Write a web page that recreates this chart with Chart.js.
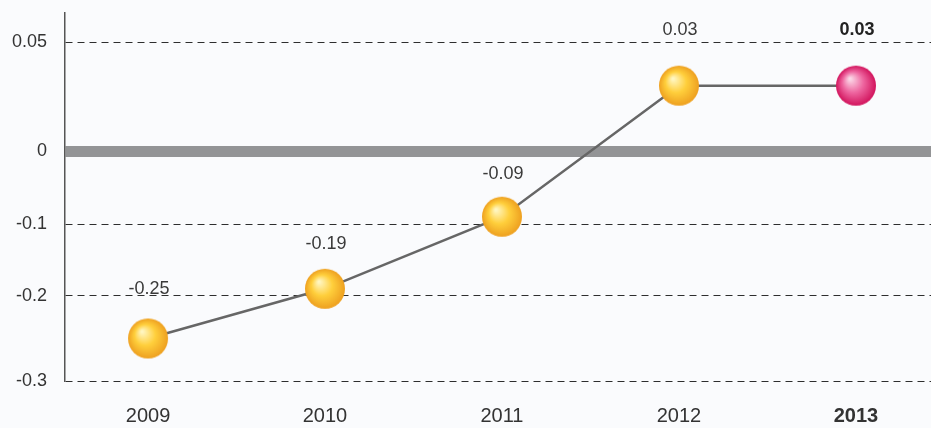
<!DOCTYPE html>
<html><head><meta charset="utf-8">
<script src="https://cdn.jsdelivr.net/npm/chart.js@4/dist/chart.umd.min.js"></script>
<style>html,body{margin:0;padding:0;background:#fafbfd;}#wrap{width:931px;height:428px;}</style>
</head><body><div id="wrap"><canvas id="c" width="931" height="428"></canvas></div>
<script>
const years = ['2009','2010','2011','2012','2013'];
const values = [-0.25, -0.19, -0.09, 0.03, 0.03];
const valueLabels = ['-0.25','-0.19','-0.09','0.03','0.03'];
const yTickValues = [-0.3, -0.2, -0.1, 0, 0.05];
const yTickLabels = ['-0.3','-0.2','-0.1','0','0.05'];

// piecewise vertical scale layout (the source axis is not evenly spaced)
const KNOT_VALUES = [-0.3, -0.2, -0.1, 0, 0.05, 0.0633];
const KNOT_FRACS  = [0, 0.231, 0.4266, 0.625, 0.921, 1];
// vertical distance of each value label above its marker (style)
const LABEL_OFFSETS = [49, 45, 43, 56, 56];

class PiecewiseScale extends Chart.LinearScale {
  getPixelForValue(value) {
    const v = +value; let i = 0;
    while (i < KNOT_VALUES.length - 2 && v > KNOT_VALUES[i + 1]) i++;
    const t = (v - KNOT_VALUES[i]) / (KNOT_VALUES[i + 1] - KNOT_VALUES[i]);
    const f = KNOT_FRACS[i] + t * (KNOT_FRACS[i + 1] - KNOT_FRACS[i]);
    return this.bottom - f * (this.bottom - this.top);
  }
  getValueForPixel(pixel) {
    const f = (this.bottom - pixel) / (this.bottom - this.top); let i = 0;
    while (i < KNOT_FRACS.length - 2 && f > KNOT_FRACS[i + 1]) i++;
    const t = (f - KNOT_FRACS[i]) / (KNOT_FRACS[i + 1] - KNOT_FRACS[i]);
    return KNOT_VALUES[i] + t * (KNOT_VALUES[i + 1] - KNOT_VALUES[i]);
  }
}
PiecewiseScale.id = 'piecewise';
PiecewiseScale.defaults = Chart.LinearScale.defaults;
Chart.register(PiecewiseScale);

function ball(c1, c2, c3) {
  const s = 44, cv = document.createElement('canvas');
  cv.width = cv.height = s;
  const g = cv.getContext('2d');
  const gr = g.createRadialGradient(s/2 - 6, s/2 - 7, 1, s/2, s/2, 20);
  gr.addColorStop(0, c1); gr.addColorStop(0.5, c2); gr.addColorStop(1, c3);
  g.fillStyle = gr; g.beginPath(); g.arc(s/2, s/2, 20, 0, Math.PI * 2); g.fill();
  return cv;
}
const yellowBall = ball('#fff6c0', '#ffcf3c', '#eea020');
const pinkBall = ball('#fbd6e6', '#ee66a0', '#d2145d');

const FONT = '"Liberation Sans", Arial, sans-serif';

function noPad(s) { s.paddingTop = 0; s.paddingBottom = 0; s.paddingLeft = 0; s.paddingRight = 0; }

const labelPlugin = {
  id: 'valueLabels',
  afterDatasetsDraw(chart) {
    const ctx = chart.ctx, meta = chart.getDatasetMeta(0);
    ctx.save();
    ctx.textAlign = 'center'; ctx.textBaseline = 'middle';
    meta.data.forEach((pt, i) => {
      const last = i === valueLabels.length - 1;
      ctx.font = (last ? 'bold ' : '') + '18px ' + FONT;
      ctx.fillStyle = last ? '#222' : '#3a3a3a';
      ctx.fillText(valueLabels[i], pt.x + 1, pt.y - LABEL_OFFSETS[i]);
    });
    ctx.restore();
  }
};

new Chart(document.getElementById('c'), {
  type: 'line',
  data: {
    datasets: [{
      data: values.map((v, i) => ({ x: i, y: v })),
      borderColor: '#666',
      borderWidth: 2.5,
      pointStyle: ctx => ctx.dataIndex === years.length - 1 ? pinkBall : yellowBall,
      pointRadius: 20,
      clip: false,
      tension: 0
    }]
  },
  options: {
    responsive: false,
    animation: false,
    devicePixelRatio: 1,
    layout: { autoPadding: false, padding: { top: 13, right: 0, left: 0, bottom: 0 } },
    plugins: { legend: { display: false }, tooltip: { enabled: false } },
    scales: {
      x: {
        type: 'linear', min: -0.469, max: 4.424,
        afterBuildTicks: s => { s.ticks = years.map((y, i) => ({ value: i })); },
        afterFit: s => { s.height = 47; noPad(s); },
        grid: { display: false, drawTicks: false },
        border: { display: false },
        ticks: {
          padding: 23,
          color: '#333',
          maxRotation: 0,
          callback: (v, i) => years[i],
          font: ctx => ({ family: FONT, size: 20, weight: ctx.index === years.length - 1 ? 'bold' : 'normal' })
        }
      },
      y: {
        type: 'piecewise', min: -0.3, max: 0.0633,
        afterBuildTicks: s => { s.ticks = yTickValues.map(v => ({ value: v })); },
        afterFit: s => { s.width = 65; noPad(s); },
        grid: {
          drawTicks: false,
          color: ctx => ctx.tick && ctx.tick.value === 0 ? '#939496' : '#2e2e2e',
          lineWidth: ctx => ctx.tick && ctx.tick.value === 0 ? 11 : 1
        },
        border: {
          display: true, color: '#555', width: 1.5,
          dash: ctx => (ctx.tick && ctx.tick.value !== 0) ? [7, 5] : []
        },
        ticks: {
          padding: 18,
          color: '#333',
          font: { family: FONT, size: 18 },
          callback: (v, i) => yTickLabels[i]
        }
      }
    }
  },
  plugins: [labelPlugin]
});
</script>
</body></html>
